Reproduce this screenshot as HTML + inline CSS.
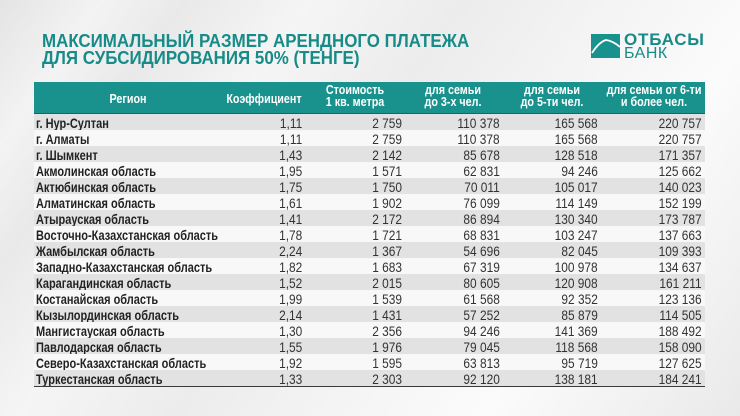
<!DOCTYPE html>
<html><head><meta charset="utf-8">
<style>
html,body{margin:0;padding:0}
body{width:740px;height:416px;position:relative;overflow:hidden;
background:linear-gradient(125deg,#e4e4e4 0%,#f3f3f3 10%,#e9e9e9 18%,#f5f5f5 30%,#ececec 45%,#f4f4f4 60%,#fbfbfb 75%,#f2f2f2 88%,#e9e9e9 100%);
font-family:"Liberation Sans",sans-serif}
.t{position:absolute;left:42px;top:32.5px;font:bold 18px/17.5px "Liberation Sans",sans-serif;color:#178b88;transform:scaleX(.94);transform-origin:left center;white-space:nowrap}
.hd{position:absolute;left:34px;top:82px;width:671px;height:31px;background:#19928d;border-bottom:1.5px solid #0f6965}
.h{position:absolute;font:bold 12.5px/12.5px "Liberation Sans",sans-serif;color:#fff;white-space:nowrap;text-align:center;transform:translateX(-50%) scaleX(.86);transform-origin:center}
.r{position:absolute;left:34px;width:671px;height:16px}
.g{background:#e2e2e2}.w{background:#f8f8f8}
.r b{position:absolute;left:2px;top:1px;font:bold 14px/16px "Liberation Sans",sans-serif;transform:scaleX(.785);transform-origin:left center;white-space:nowrap;color:#222}
.r i{position:absolute;top:1px;font:14px/16px "Liberation Sans",sans-serif;font-style:normal;transform:scaleX(.85);transform-origin:right center;color:#333;white-space:nowrap}
.c2{right:403px}.c3{right:303px}.c4{right:205px}.c5{right:107px}.c6{right:3px}
.bl{position:absolute;left:34px;top:385.5px;width:671px;height:1.5px;background:#3a3a3a}
.lg1{position:absolute;left:624px;top:31px;font:bold 17px/17px "Liberation Sans",sans-serif;color:#178b88;letter-spacing:.8px}
.lg2{position:absolute;left:624px;top:45.5px;font:16px/16px "Liberation Sans",sans-serif;color:#178b88;letter-spacing:.5px}
</style></head><body>
<div class="t">МАКСИМАЛЬНЫЙ РАЗМЕР АРЕНДНОГО ПЛАТЕЖА<br>ДЛЯ СУБСИДИРОВАНИЯ 50% (ТЕНГЕ)</div>

<svg style="position:absolute;left:591px;top:34px" width="29" height="24" viewBox="0 0 29 24">
<rect x="0" y="0" width="29" height="24" fill="#19928d"/>
<path d="M1 19 Q8 8 15 6 Q22 7 29 13" stroke="#fff" stroke-width="1.8" fill="none"/>
</svg>
<div class="lg1">ОТБАСЫ</div>
<div class="lg2">БАНК</div>

<div class="hd"></div>
<div class="h" style="left:128px;top:92.5px">Регион</div>
<div class="h" style="left:264px;top:92.5px">Коэффициент</div>
<div class="h" style="left:355px;top:83.5px">Стоимость<br>1 кв. метра</div>
<div class="h" style="left:453px;top:83.5px">для семьи<br>до 3-х чел.</div>
<div class="h" style="left:552px;top:83.5px">для семьи<br>до 5-ти чел.</div>
<div class="h" style="left:654px;top:83.5px">для семьи от 6-ти<br>и более чел.</div>

<div class="r g" style="top:114px"><b>г. Нур-Султан</b><i class="c2">1,11</i><i class="c3">2 759</i><i class="c4">110 378</i><i class="c5">165 568</i><i class="c6">220 757</i></div>
<div class="r w" style="top:130px"><b>г. Алматы</b><i class="c2">1,11</i><i class="c3">2 759</i><i class="c4">110 378</i><i class="c5">165 568</i><i class="c6">220 757</i></div>
<div class="r g" style="top:146px"><b>г. Шымкент</b><i class="c2">1,43</i><i class="c3">2 142</i><i class="c4">85 678</i><i class="c5">128 518</i><i class="c6">171 357</i></div>
<div class="r w" style="top:162px"><b>Акмолинская область</b><i class="c2">1,95</i><i class="c3">1 571</i><i class="c4">62 831</i><i class="c5">94 246</i><i class="c6">125 662</i></div>
<div class="r g" style="top:178px"><b>Актюбинская область</b><i class="c2">1,75</i><i class="c3">1 750</i><i class="c4">70 011</i><i class="c5">105 017</i><i class="c6">140 023</i></div>
<div class="r w" style="top:194px"><b>Алматинская область</b><i class="c2">1,61</i><i class="c3">1 902</i><i class="c4">76 099</i><i class="c5">114 149</i><i class="c6">152 199</i></div>
<div class="r g" style="top:210px"><b>Атырауская область</b><i class="c2">1,41</i><i class="c3">2 172</i><i class="c4">86 894</i><i class="c5">130 340</i><i class="c6">173 787</i></div>
<div class="r w" style="top:226px"><b>Восточно-Казахстанская область</b><i class="c2">1,78</i><i class="c3">1 721</i><i class="c4">68 831</i><i class="c5">103 247</i><i class="c6">137 663</i></div>
<div class="r g" style="top:242px"><b>Жамбылская область</b><i class="c2">2,24</i><i class="c3">1 367</i><i class="c4">54 696</i><i class="c5">82 045</i><i class="c6">109 393</i></div>
<div class="r w" style="top:258px"><b>Западно-Казахстанская область</b><i class="c2">1,82</i><i class="c3">1 683</i><i class="c4">67 319</i><i class="c5">100 978</i><i class="c6">134 637</i></div>
<div class="r g" style="top:274px"><b>Карагандинская область</b><i class="c2">1,52</i><i class="c3">2 015</i><i class="c4">80 605</i><i class="c5">120 908</i><i class="c6">161 211</i></div>
<div class="r w" style="top:290px"><b>Костанайская область</b><i class="c2">1,99</i><i class="c3">1 539</i><i class="c4">61 568</i><i class="c5">92 352</i><i class="c6">123 136</i></div>
<div class="r g" style="top:306px"><b>Кызылординская область</b><i class="c2">2,14</i><i class="c3">1 431</i><i class="c4">57 252</i><i class="c5">85 879</i><i class="c6">114 505</i></div>
<div class="r w" style="top:322px"><b>Мангистауская область</b><i class="c2">1,30</i><i class="c3">2 356</i><i class="c4">94 246</i><i class="c5">141 369</i><i class="c6">188 492</i></div>
<div class="r g" style="top:338px"><b>Павлодарская область</b><i class="c2">1,55</i><i class="c3">1 976</i><i class="c4">79 045</i><i class="c5">118 568</i><i class="c6">158 090</i></div>
<div class="r w" style="top:354px"><b>Северо-Казахстанская область</b><i class="c2">1,92</i><i class="c3">1 595</i><i class="c4">63 813</i><i class="c5">95 719</i><i class="c6">127 625</i></div>
<div class="r g" style="top:370px"><b>Туркестанская область</b><i class="c2">1,33</i><i class="c3">2 303</i><i class="c4">92 120</i><i class="c5">138 181</i><i class="c6">184 241</i></div>
<div class="bl"></div>
</body></html>
